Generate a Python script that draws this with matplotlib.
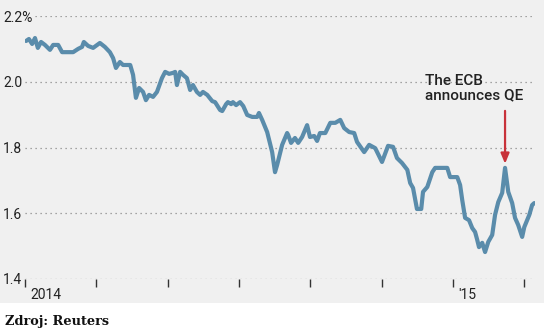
import matplotlib
matplotlib.use("Agg")
import matplotlib.pyplot as plt
import matplotlib.transforms as mtransforms
from matplotlib.patches import Rectangle
import numpy as np

# Months since start of 2014 and yield (%)
months = [0.03, 0.11, 0.20, 0.28, 0.36, 0.45, 0.56, 0.70, 0.79, 0.93,
          1.04, 1.35, 1.49, 1.60, 1.65, 1.77, 1.91, 2.10, 2.24, 2.38,
          2.47, 2.55, 2.66, 2.75, 2.95, 3.03, 3.11, 3.20, 3.31, 3.39,
          3.48, 3.59, 3.70, 3.84, 3.93, 4.04, 4.15, 4.21, 4.26, 4.35,
          4.43, 4.54, 4.63, 4.71, 4.82, 4.91, 4.99, 5.11, 5.25, 5.33,
          5.47, 5.53, 5.64, 5.69, 5.78, 5.83, 5.92, 6.03, 6.12, 6.23,
          6.37, 6.51, 6.56, 6.65, 6.79, 6.93, 7.01, 7.07, 7.21, 7.35,
          7.38, 7.46, 7.57, 7.66, 7.77, 7.91, 7.99, 8.11, 8.19, 8.27,
          8.42, 8.56, 8.70, 8.84, 8.95, 9.09, 9.23, 9.31, 9.51, 9.65,
          9.82, 10.01, 10.18, 10.32, 10.43, 10.57, 10.72, 10.80, 10.88, 10.99,
          11.11, 11.16, 11.28, 11.42, 11.50, 11.84, 11.92, 12.12, 12.20, 12.26,
          12.34, 12.45, 12.54, 12.62, 12.68, 12.73, 12.82, 12.90, 12.99, 13.10,
          13.18, 13.27, 13.38, 13.46, 13.55, 13.66, 13.74, 13.83, 13.94, 14.00,
          14.08, 14.14, 14.22, 14.28]
yields = [2.124, 2.130, 2.115, 2.133, 2.103, 2.121, 2.112, 2.097, 2.112, 2.112,
          2.090, 2.090, 2.100, 2.106, 2.121, 2.109, 2.103, 2.118, 2.106, 2.090,
          2.072, 2.042, 2.060, 2.051, 2.051, 2.021, 1.951, 1.981, 1.969, 1.944,
          1.960, 1.954, 1.969, 2.011, 2.030, 2.024, 2.027, 2.030, 1.990, 2.030,
          2.021, 2.011, 1.975, 1.990, 1.969, 1.960, 1.969, 1.960, 1.941, 1.938,
          1.914, 1.911, 1.932, 1.938, 1.932, 1.938, 1.929, 1.938, 1.926, 1.899,
          1.893, 1.893, 1.905, 1.884, 1.847, 1.786, 1.725, 1.747, 1.808, 1.844,
          1.838, 1.814, 1.829, 1.814, 1.832, 1.868, 1.832, 1.835, 1.820, 1.844,
          1.844, 1.875, 1.875, 1.884, 1.859, 1.847, 1.844, 1.817, 1.786, 1.808,
          1.798, 1.756, 1.805, 1.802, 1.768, 1.753, 1.732, 1.692, 1.677, 1.613,
          1.613, 1.665, 1.680, 1.725, 1.738, 1.738, 1.710, 1.710, 1.686, 1.640,
          1.586, 1.579, 1.555, 1.543, 1.519, 1.497, 1.510, 1.482, 1.513, 1.534,
          1.595, 1.634, 1.662, 1.738, 1.665, 1.631, 1.586, 1.564, 1.528, 1.558,
          1.579, 1.595, 1.625, 1.631]

ytick_pos = [1.4, 1.6, 1.8, 2.0, 2.2]
ytick_labels = ["1.4", "1.6", "1.8", "2.0", "2.2%"]
xtick_pos = [0, 2, 4, 6, 8, 10, 12, 14]
xtick_labels = ["2014", "", "", "", "", "", "'15", ""]
year_tick = 12
note = "The ECB\nannounces QE"
source = "Zdroj: Reuters"

bg = "#f0f0f0"
line_col = "#5a8cab"
txt_col = "#222222"

fig = plt.figure(figsize=(5.44, 3.34), dpi=100, facecolor="white")
fig.patches.append(Rectangle((0, 31 / 334), 1, 1 - 31 / 334, transform=fig.transFigure,
                             facecolor=bg, edgecolor="none", zorder=-10))
ax = fig.add_axes([25 / 544, 55 / 334, 510 / 544, 263 / 334])
ax.set_facecolor("none")

ax.plot(months, yields, color=line_col, lw=3, solid_joinstyle="round",
        solid_capstyle="round", zorder=3)

ax.set_xlim(0, 14.3)
ax.set_ylim(1.4, 2.2)
for s in ax.spines.values():
    s.set_visible(False)

ax.set_yticks(ytick_pos, labels=ytick_labels)
ax.grid(axis="y", color="#8a8a8a", lw=0.9, linestyle=(0, (1, 3)))
ax.tick_params(axis="y", length=0, pad=15.8, labelsize=10, labelcolor=txt_col)
for lbl in ax.get_yticklabels():
    lbl.set_ha("left")
    lbl.set_fontfamily("Roboto")
    lbl.set_bbox(dict(facecolor=bg, edgecolor="none", pad=1))

ax.set_xticks(xtick_pos, labels=xtick_labels)
ax.set_xticks([year_tick], minor=True)
ax.tick_params(axis="x", which="major", direction="out", length=5.8, width=1,
               color="#333333", pad=0.5, labelsize=10, labelcolor=txt_col)
ax.tick_params(axis="x", which="minor", direction="out", length=13.7, width=1.2,
               color="#333333")
shift = mtransforms.ScaledTranslation(5 / 100, 0, fig.dpi_scale_trans)
for tick in ax.xaxis.get_major_ticks():
    tick.label1.set_ha("left")
    tick.label1.set_fontfamily("Roboto")
    tick.label1.set_transform(tick.label1.get_transform() + shift)

# QE announcement peak
m = np.array(months)
y = np.array(yields)
late = m > 13
i_peak = np.argmax(np.where(late, y, 0))
peak = (m[i_peak], y[i_peak])

ax.annotate("", xy=peak, xytext=(0, 57), textcoords="offset pixels",
            arrowprops=dict(arrowstyle="-|>,head_length=0.6,head_width=0.25",
                            color="#c8323a", lw=1.6, shrinkA=0, shrinkB=3),
            zorder=4)
ax.annotate(note, xy=peak, xytext=(-80, 94), textcoords="offset pixels",
            ha="left", va="top", fontsize=11, fontfamily="Roboto",
            fontweight="medium", color=txt_col, linespacing=1.05)

fig.text(5 / 544, 1 - 322 / 334, source, ha="left", va="center",
         fontsize=9.3, fontfamily="DejaVu Serif", fontweight="bold", color="#111111")

fig.savefig("out.png", dpi=100, facecolor="white")
